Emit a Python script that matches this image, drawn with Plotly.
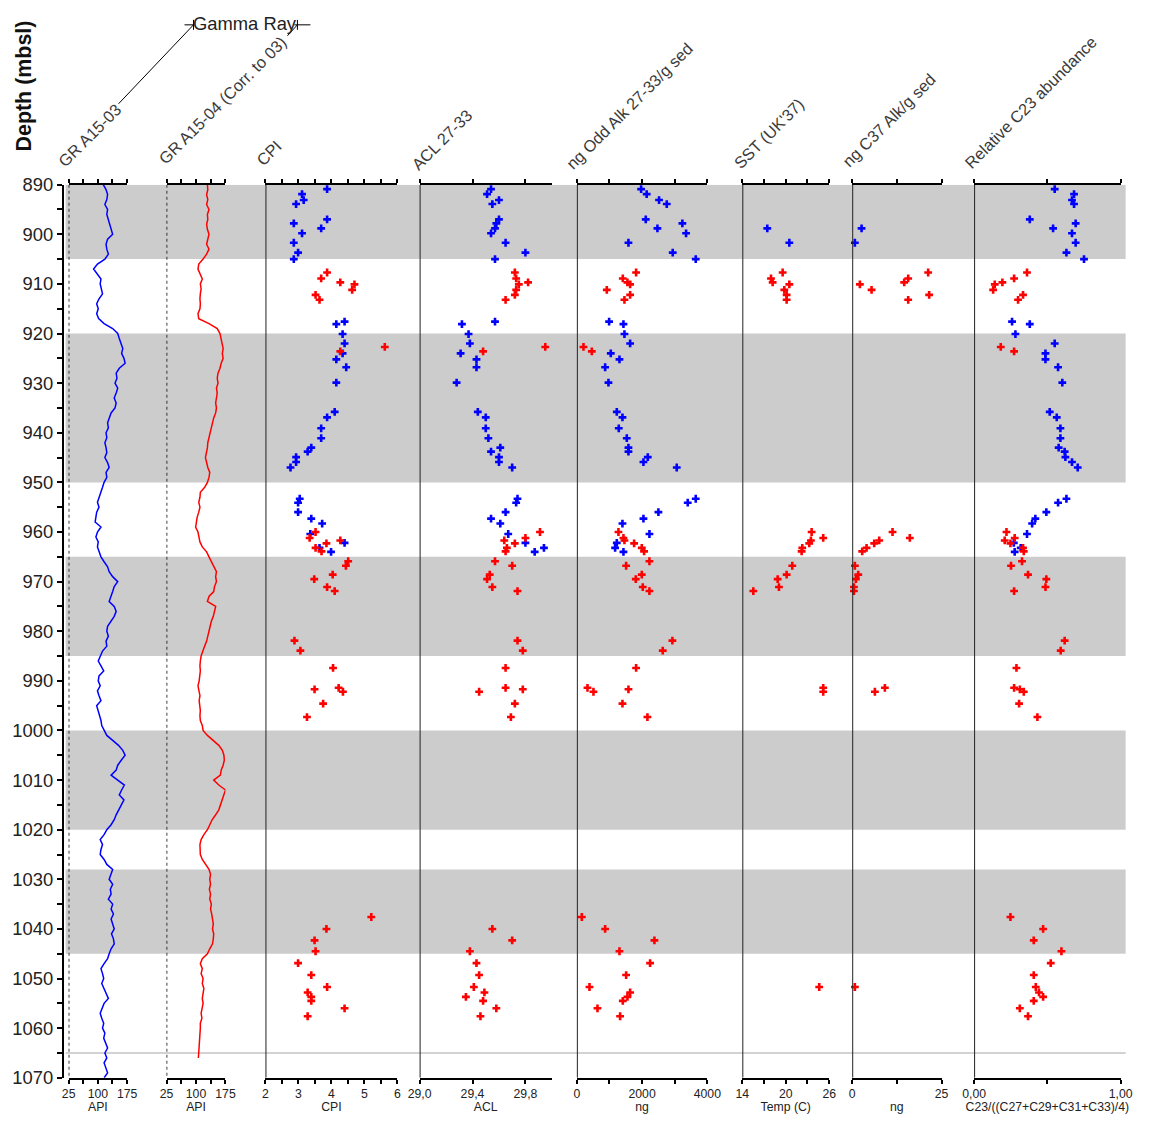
import plotly.graph_objects as go

W, H = 1151, 1122
BODY = 8                      # default page margin around the plot div
FW, FH = W - 2 * BODY, H - 2 * BODY
# correction for the capture: rendered ~ S * page + O
SX, OX = 0.978, 11.5
SY, OY = 0.982, 9.3
FS = 1.02                     # font compensation


def px(x):
    return ((x - OX) / SX - BODY) / FW


def py(y):
    return 1 - ((y - OY) / SY - BODY) / FH


FONT = "Liberation Sans, Arial, sans-serif"

# ---------------- Gamma-ray logs (API) ----------------
gr03_depth = list(range(890, 1071))
gr03_api = [114, 121, 125, 123, 118, 125, 123, 127, 129, 134,
            138, 125, 121, 123, 127, 118, 99, 89, 99, 108,
            106, 110, 112, 103, 97, 101, 97, 102, 116, 138,
            151, 155, 160, 164, 161, 167, 170, 155, 147, 149,
            144, 151, 147, 142, 147, 144, 134, 129, 125, 127,
            121, 123, 118, 121, 123, 118, 125, 129, 121, 123,
            116, 112, 108, 103, 99, 103, 97, 95, 93, 108,
            99, 95, 101, 99, 103, 108, 116, 125, 129, 138,
            151, 142, 138, 134, 129, 142, 147, 142, 134, 125,
            123, 127, 121, 123, 112, 106, 101, 108, 115, 103,
            101, 106, 99, 103, 108, 97, 101, 106, 108, 110,
            116, 123, 138, 153, 164, 170, 160, 151, 147, 134,
            151, 168, 161, 155, 167, 160, 153, 147, 142, 134,
            123, 116, 106, 112, 108, 106, 116, 123, 138, 134,
            129, 138, 132, 134, 127, 138, 134, 140, 134, 138,
            142, 135, 140, 142, 134, 129, 125, 116, 108, 112,
            115, 110, 116, 121, 127, 116, 112, 106, 110, 115,
            112, 118, 115, 121, 125, 118, 123, 116, 121, 125,
            116]

gr04_depth = list(range(890, 1067))
gr04_api = [129, 130, 127, 130, 127, 133, 129, 130, 127, 129,
            133, 129, 127, 133, 127, 118, 107, 105, 111, 116,
            111, 113, 111, 110, 111, 110, 105, 107, 133, 154,
            161, 164, 167, 169, 167, 169, 164, 161, 156, 154,
            156, 152, 154, 152, 150, 152, 150, 145, 142, 139,
            135, 133, 130, 129, 127, 124, 127, 130, 135, 133,
            129, 122, 111, 110, 107, 110, 107, 103, 101, 99,
            105, 107, 110, 116, 127, 133, 139, 145, 152, 150,
            152, 147, 145, 133, 129, 150, 147, 144, 139, 135,
            133, 130, 127, 122, 118, 113, 111, 110, 111, 110,
            108, 105, 107, 110, 108, 110, 111, 110, 111, 116,
            118, 129, 145, 158, 167, 171, 172, 169, 164, 162,
            145, 158, 175, 171, 167, 162, 158, 150, 141, 135,
            129, 120, 113, 110, 111, 111, 116, 124, 133, 137,
            135, 137, 134, 137, 135, 139, 137, 140, 142, 144,
            142, 145, 144, 142, 135, 129, 116, 111, 116, 113,
            118, 116, 120, 118, 116, 118, 116, 113, 115, 111,
            111, 110, 110, 108, 108, 107, 106]

# ---------------- Biomarker samples ----------------
blue_depth = [890.9, 891.9, 893.1, 893.9, 897.0, 897.8, 898.8, 899.8, 901.7, 903.7, 905.0,
              917.6, 918.1, 920.1, 922.0, 924.0, 925.2, 926.8, 929.9, 935.8, 936.9, 939.1,
              941.1, 943.0, 943.8, 944.9, 945.9, 947.0,
              953.3, 954.1, 956.0, 957.3, 958.3, 960.4, 962.2, 963.2, 964.0]
blue_cpi = [3.87, 3.11, 3.16, 2.93, 3.87, 2.86, 3.69, 3.11, 2.86, 2.99, 2.86,
            4.40, 4.15, 4.34, 4.40, 4.34, 4.15, 4.45, 4.15, 4.10, 3.87, 3.69,
            3.69, 3.39, 3.28, 2.93, 2.93, 2.76,
            3.04, 2.99, 2.99, 3.39, 3.72, 3.36, 4.40, 3.64, 3.99]
blue_acl = [29.54, 29.51, 29.60, 29.55, 29.60, 29.58, 29.57, 29.54, 29.65, 29.80, 29.57,
            29.57, 29.32, 29.37, 29.38, 29.31, 29.43, 29.43, 29.28, 29.44, 29.50, 29.50,
            29.52, 29.61, 29.54, 29.60, 29.60, 29.70,
            29.74, 29.73, 29.65, 29.54, 29.61, 29.67, 29.80, 29.94, 29.87]
blue_ngodd = [1970, 2140, 2520, 2756, 2112, 3235, 2470, 3348, 1582, 2939, 3644,
              989, 1428, 1459, 1633, 1040, 1306, 867, 969, 1224, 1398, 1285,
              1531, 1582, 1582, 2174, 2041, 3062,
              3644, 3399, 2500, 2041, 1398, 2225, 1224, 1173, 1428]
blue_sst = [None, None, None, None, None, None, 17.45, None, 20.49, None, None,
            None, None, None, None, None, None, None, None, None, None, None,
            None, None, None, None, None, None,
            None, None, None, None, None, None, None, None, None]
blue_c37 = [None, None, None, None, None, None, 2.62, None, 0.75, None, None,
            None, None, None, None, None, None, None, None, None, None, None,
            None, None, None, None, None, None,
            None, None, None, None, None, None, None, None, None]
blue_rel = [0.550, 0.682, 0.668, 0.682, 0.380, 0.693, 0.539, 0.668, 0.693, 0.630, 0.750,
            0.259, 0.380, 0.282, 0.550, 0.487, 0.487, 0.573, 0.602, 0.516, 0.564, 0.589,
            0.589, 0.577, 0.618, 0.623, 0.668, 0.707,
            0.630, 0.573, 0.493, 0.418, 0.396, 0.361, 0.271, 0.318, 0.277]

red_depth = [907.7, 908.9, 909.7, 910.1, 911.2, 912.2, 913.2,
             922.7, 923.6,
             960.0, 961.2, 961.7, 962.3, 963.2, 963.9,
             965.9, 966.8, 968.6, 969.5, 971.1, 971.9,
             981.9, 983.9, 987.4, 991.4, 991.7, 992.2, 994.6, 997.3,
             1037.6, 1040.0, 1042.3, 1044.5, 1046.9, 1049.3, 1051.7, 1052.8, 1053.7,
             1054.5, 1056.0, 1057.6]
red_cpi = [3.87, 3.69, 4.27, 4.70, 4.63, 3.52, 3.64,
           5.62, 4.27,
           3.52, 3.34, 4.27, 3.85, 3.52, 3.70,
           4.51, 4.44, 4.04, 3.48, 3.87, 4.10,
           2.88, 3.06, 4.05, 4.22, 3.49, 4.35, 3.75, 3.26,
           5.21, 3.85, 3.49, 3.52, 2.99, 3.39, 3.87, 3.28, 3.39, 3.39, 4.40, 3.28]
red_acl = [29.72, 29.73, 29.82, 29.75, 29.73, 29.72, 29.65,
           29.95, 29.48,
           29.91, 29.80, 29.64, 29.72, 29.66, 29.65,
           29.57, 29.70, 29.53, 29.51, 29.55, 29.74,
           29.74, 29.78, 29.65, 29.65, 29.78, 29.45, 29.72, 29.69,
           None, 29.55, 29.70, 29.38, 29.43, 29.45, 29.41, 29.49, 29.35, 29.48, 29.58, 29.46]
red_ngodd = [1816, 1408, 1551, 1633, 918, 1633, 1459,
             203, 458,
             1275, 1428, 1459, 1755, 1990, 2061,
             2225, 1510, 1990, 1806, 2021, 2225,
             2929, 2633, 1816, 326, 1582, 509, 1398, 2163,
             152, 867, 2378, 1306, 2245, 1510, 387, 1633, 1551, 1408, 632, 1326]
red_sst = [19.57, 17.96, 18.19, 20.49, 19.80, 20.12, 20.12,
           None, None,
           23.57, 25.17, 23.47, 23.24, 22.28, 22.19,
           None, 20.90, 20.12, 18.88, 19.06, 15.52,
           None, None, None, 25.17, None, 25.17, None, None,
           None, None, None, None, None, None, 24.62, None, None, None, None, None]
red_c37 = [21.26, 15.67, 14.55, 2.15, 5.42, 21.54, 15.67,
           None, None,
           11.29, 16.13, 7.56, 6.16, 4.02, 2.80,
           None, 0.75, 1.69, 1.03, 0.48, 0.48,
           None, None, None, 9.14, None, 6.35, None, None,
           None, None, None, None, None, None, 0.75, None, None, None, None, None]
red_rel = [0.361, 0.273, 0.193, 0.141, 0.130, 0.334, 0.300,
           0.182, 0.273,
           0.221, 0.277, 0.209, 0.248, 0.334, 0.339,
           0.327, 0.252, 0.368, 0.493, 0.487, 0.273,
           0.618, 0.591, 0.289, 0.273, 0.312, 0.339, 0.307, 0.432,
           0.248, 0.471, 0.407, 0.596, 0.523, 0.407, 0.421, 0.443, 0.471, 0.407, 0.312, 0.368]

# Intervals shaded grey (depth, mbsl)
band_top = [890, 920, 965, 1000, 1028]
band_bottom = [905, 950, 985, 1020, 1045]
base_line_depth = 1065

# Panel headers and axis titles
headers = ["GR A15-03", "GR A15-04 (Corr. to 03)", "CPI", "ACL 27-33",
           "ng Odd Alk 27-33/g sed", "SST (UK'37)", "ng C37 Alk/g sed",
           "Relative C23 abundance"]
axis_titles = ["API", "API", "CPI", "ACL", "ng", "Temp (C)", "ng",
               "C23/((C27+C29+C31+C33)/4)"]
tick_vals = [[25, 100, 175], [25, 100, 175], [2, 3, 4, 5, 6], [29.0, 29.4, 29.8],
             [0, 2000, 4000], [14, 20, 26], [0, 25], [0, 1]]
tick_text = [["25", "100", "175"], ["25", "100", "175"], ["2", "3", "4", "5", "6"],
             ["29,0", "29,4", "29,8"], ["0", "2000", "4000"], ["14", "20", "26"],
             ["0", "25"], ["0,00", "1,00"]]
minor_vals = [[62.5, 137.5], [62.5, 137.5], [2.5, 3.5, 4.5, 5.5], [],
              [1000, 3000], [17, 23], [12.5], [0.5]]
ranges = [[25, 175], [25, 175], [2, 6], [29.0, 30.0], [0, 4000], [14, 26], [0, 25], [0, 1]]

# ---------------- layout geometry (target pixels) ----------------
dom_px = [(68, 126.5), (166, 225), (265, 397), (419.3, 551.7), (576.7, 707.3),
          (742.3, 829.3), (852.3, 941.7), (974.3, 1121)]
head_center = [(89, 133), (222, 98), (268, 151), (441, 138), (629, 104),
               (769, 131), (889, 118), (1031, 100)]
Y_TOP, Y_BOT = 183, 1077

fig = go.Figure()

BLUE, RED = "#0000ff", "#ff0000"

fig.add_trace(go.Scatter(x=gr03_api, y=gr03_depth, mode="lines",
                         line=dict(color=BLUE, width=1.5), xaxis="x", yaxis="y"))
fig.add_trace(go.Scatter(x=gr04_api, y=gr04_depth, mode="lines",
                         line=dict(color=RED, width=1.5), xaxis="x2", yaxis="y"))

series = [(blue_cpi, red_cpi), (blue_acl, red_acl), (blue_ngodd, red_ngodd),
          (blue_sst, red_sst), (blue_c37, red_c37), (blue_rel, red_rel)]
for i, (bv, rv) in enumerate(series):
    ax = "x%d" % (i + 3)
    for vals, dep, col in ((bv, blue_depth, BLUE), (rv, red_depth, RED)):
        fig.add_trace(go.Scatter(x=vals, y=dep, mode="markers",
                                 marker=dict(symbol="cross", size=6.5, color=col,
                                             line=dict(width=0)),
                                 xaxis=ax, yaxis="y", cliponaxis=False))

layout = dict(
    width=FW, height=FH, showlegend=False,
    margin=dict(l=0, r=0, t=0, b=0, pad=0),
    paper_bgcolor="white", plot_bgcolor="rgba(0,0,0,0)",
    font=dict(family=FONT, color="#222222"),
    yaxis=dict(domain=[py(Y_BOT), py(Y_TOP)], range=[1070, 890], anchor="free",
               position=px(62), showline=True, linecolor="black", linewidth=1.5,
               ticks="outside", ticklen=5, tickwidth=1.5, tickcolor="black",
               tick0=890, dtick=10, tickfont=dict(size=18 * FS, color="#222222"),
               minor=dict(dtick=5, tick0=890, ticks="outside", ticklen=5,
                          tickwidth=1.5, tickcolor="black", showgrid=False),
               showgrid=False, zeroline=False),
)

for i in range(8):
    key = "xaxis" if i == 0 else "xaxis%d" % (i + 1)
    a, b = dom_px[i]
    layout[key] = dict(
        domain=[px(a), px(b)], range=ranges[i], anchor="y",
        showline=True, linecolor="black", linewidth=2, mirror="ticks",
        ticks="outside", ticklen=4, tickwidth=1.5, tickcolor="black",
        tickvals=tick_vals[i], ticktext=tick_text[i],
        tickfont=dict(size=12 * FS, color="#222222"),
        minor=dict(tickvals=minor_vals[i], ticks="outside", ticklen=4,
                   tickwidth=1.5, tickcolor="black", showgrid=False),
        showgrid=False, zeroline=False,
        title=dict(text=axis_titles[i], font=dict(size=12 * FS, color="#222222"), standoff=4),
    )

shapes = []
for t, bt in zip(band_top, band_bottom):
    shapes.append(dict(type="rect", xref="paper", yref="y", x0=px(65), x1=px(1126),
                       y0=t, y1=bt, fillcolor="#cccccc", line=dict(width=0),
                       layer="below"))
shapes.append(dict(type="line", xref="paper", yref="y", x0=px(65), x1=px(1126),
                   y0=base_line_depth, y1=base_line_depth,
                   line=dict(color="#d2d2d2", width=2), layer="below"))
for i in range(8):
    xr = "x" if i == 0 else "x%d" % (i + 1)
    if i < 2:
        ln = dict(color="black", width=1.5, dash="dot")
    else:
        ln = dict(color="#222222", width=2)
    shapes.append(dict(type="line", xref=xr, yref="y", x0=ranges[i][0], x1=ranges[i][0],
                       y0=890, y1=1070, line=ln, layer="above"))


# Gamma Ray bracket
def seg(x0, y0, x1, y1, w=1):
    return dict(type="line", xref="paper", yref="paper", x0=px(x0), y0=py(y0),
                x1=px(x1), y1=py(y1), line=dict(color="black", width=w))


shapes += [seg(118, 102, 193, 23), seg(287, 34, 297, 23),
           seg(184, 23, 194, 23), seg(294, 23, 310, 23),
           seg(193, 18, 193, 28), seg(297, 18, 297, 28)]
layout["shapes"] = shapes

ann = []
for txt, (cx, cy) in zip(headers, head_center):
    ann.append(dict(text=txt, x=px(cx), y=py(cy), xref="paper", yref="paper",
                    showarrow=False, textangle=-45, xanchor="center", yanchor="middle",
                    font=dict(size=16 * FS, color="#3a3a3a", family=FONT)))
ann.append(dict(text="Gamma Ray", x=px(245), y=py(22), xref="paper", yref="paper",
                showarrow=False, xanchor="center", yanchor="middle",
                font=dict(size=18 * FS, color="#222222", family=FONT)))
ann.append(dict(text="<b>Depth (mbsl)</b>", x=px(23), y=py(84), xref="paper", yref="paper",
                showarrow=False, textangle=-90, xanchor="center", yanchor="middle",
                font=dict(size=21 * FS, color="#111111", family=FONT)))
layout["annotations"] = ann

fig.update_layout(**layout)
fig.write_html("out.html")
